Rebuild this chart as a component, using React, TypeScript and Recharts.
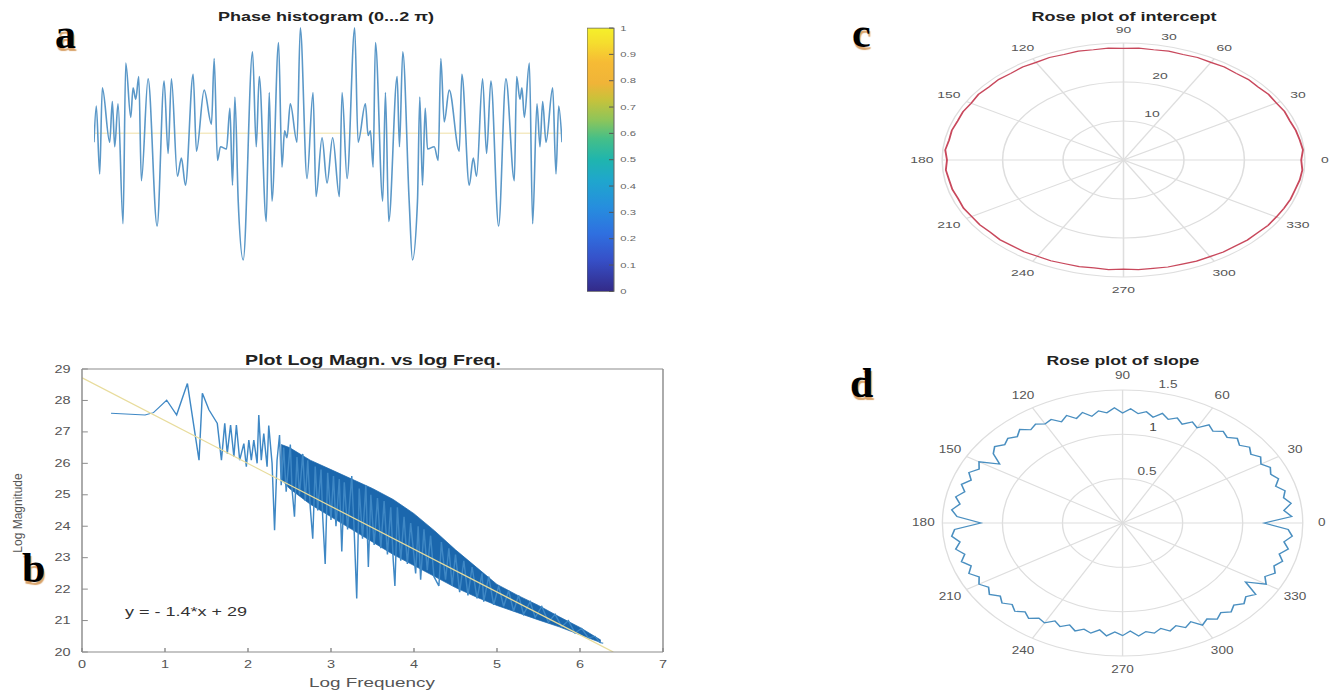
import React from 'react';
import {
  LineChart, Line, XAxis, YAxis, ReferenceLine, BarChart, Bar, ComposedChart, Area,
  RadarChart, Radar, PolarGrid, PolarAngleAxis, PolarRadiusAxis,
} from 'recharts';

const SANS = '"Liberation Sans", Arial, Helvetica, sans-serif';
const SERIF = '"Liberation Serif", "Times New Roman", serif';

// ---------- Panel a : phase signal ----------
const phaseT = [
  0, 2.3, 5.7, 8.3, 15.7, 18.3, 20.7, 24, 29, 31.7, 36.7, 39, 41.7, 44.7, 47.3, 54, 63, 70, 74, 77.3,
  83.3, 87.3, 91.3, 99, 102.3, 110, 117.3, 120, 123.3, 126.3, 132.3, 135.7, 138.3, 140.7, 144, 149,
  158.3, 162, 165, 172, 175, 177.7, 184.3, 187.7, 190.3, 192.7, 196, 202.7, 206, 212.7, 218.7, 221.7,
  227.7, 232.7, 238.3, 245, 247.7, 252.7, 260.3, 263.7, 271, 273.7, 276, 278.7, 281, 288.3, 291, 294.3,
  302.7, 305, 308.3,
  314.7, 318, 323, 325.3, 328, 330.7, 333, 339.7, 343.7, 346.3, 349.7, 354.7, 364.7, 367.3, 374.7, 378.7,
  382, 388, 392, 396.3, 404, 411.3, 419.7, 422, 425.3, 427.3, 429.7, 434.7, 438, 442.3, 445.3, 448, 451.3,
  458, 461.3, 464, 467.3,
];
const phaseV = [
  0.46, 0.62, 0.32, 0.70, 0.46, 0.64, 0.44, 0.63, 0.10, 0.81, 0.57, 0.70, 0.65, 0.75, 0.29, 0.74, 0.09, 0.73, 0.41, 0.74,
  0.31, 0.39, 0.27, 0.76, 0.42, 0.69, 0.54, 0.83, 0.38, 0.44, 0.43, 0.61, 0.27, 0.66, 0.20, -0.06,
  0.86, 0.44, 0.75, 0.11, 0.68, 0.20, 0.90, 0.35, 0.51, 0.48, 0.63, 0.46, 0.965, 0.30, 0.68, 0.22,
  0.48, 0.28, 0.48, 0.22, 0.68, 0.30, 0.965, 0.46, 0.63, 0.49, 0.51, 0.35, 0.90, 0.20, 0.68, 0.11,
  0.75, 0.44, 0.86,
  0.20, -0.06, 0.20, 0.66, 0.27, 0.61, 0.43, 0.44, 0.38, 0.83, 0.55, 0.69, 0.42, 0.76, 0.27, 0.39,
  0.31, 0.74, 0.41, 0.73, 0.09, 0.74, 0.29, 0.75, 0.65, 0.70, 0.57, 0.81, 0.10, 0.63, 0.44, 0.64, 0.46,
  0.70, 0.32, 0.62, 0.46,
];
const phaseLevel = 0.5;
const phaseData = phaseT.map((t, i) => ({ t, v: phaseV[i] }));

// ---------- Colorbar ----------
const cbTicks = [0, 0.1, 0.2, 0.3, 0.4, 0.5, 0.6, 0.7, 0.8, 0.9, 1];
const cbOffsets = [0, 0.057, 0.13, 0.21, 0.27, 0.35, 0.42, 0.5, 0.58, 0.68, 0.78, 0.88, 1];
const cbColors = ['#f5f02a', '#f5dd2e', '#f6bb35', '#f0b438', '#c9c23a', '#8dc55a', '#45bf88', '#1fb5ae', '#1fa6cd', '#268ede', '#2f70e0', '#3650c8', '#332a88'];
const cbData = [{ name: 'scale', v: 1 }];

// ---------- Panel b : log magnitude vs log frequency ----------
const magX = [
  0.35, 0.76, 0.86, 1.02, 1.14, 1.27, 1.41, 1.45, 1.53, 1.63, 1.68, 1.72, 1.75, 1.79, 1.83, 1.86, 1.90, 1.95, 1.98, 2.01,
  2.04, 2.07, 2.11, 2.13, 2.16, 2.19, 2.23, 2.25, 2.29, 2.32, 2.35,
  2.38, 2.40, 2.43, 2.46, 2.51, 2.53, 2.56, 2.59, 2.62, 2.66, 2.69, 2.72, 2.75, 2.78, 2.81, 2.84, 2.88, 2.90, 2.93, 2.96,
  3.00, 3.03, 3.06, 3.10, 3.13, 3.16, 3.20, 3.25, 3.28, 3.31, 3.34, 3.38, 3.42, 3.45, 3.48, 3.52, 3.56, 3.60, 3.64, 3.68,
  3.72, 3.75, 3.77, 3.80, 3.84, 3.88, 3.92, 3.96, 4.02, 4.05, 4.08, 4.12, 4.16, 4.20, 4.24, 4.30, 4.33, 4.38, 4.42, 4.46,
  4.50, 4.55, 4.60, 4.65, 4.70, 4.76, 4.82, 4.84, 4.90, 4.96, 5.02, 5.08, 5.14, 5.20, 5.26, 5.32, 5.40, 5.46, 5.54, 5.62,
  5.70, 5.78, 5.86, 5.94, 6.02, 6.10, 6.18, 6.24, 6.28,
];
const magY = [
  27.59, 27.54, 27.61, 28.01, 27.54, 28.54, 26.10, 28.23, 27.70, 27.27, 26.10, 27.27, 26.31, 27.22, 26.21, 27.22, 26.10, 26.63, 25.89, 26.74,
  26.10, 26.74, 26.00, 27.54, 26.10, 26.95, 25.89, 27.20, 26.00, 23.87, 26.10,
  26.90, 25.30, 26.50, 25.10, 26.60, 25.20, 24.30, 26.20, 25.00, 26.30, 24.80, 26.10, 24.60, 23.60, 25.90, 24.50, 25.80, 24.30, 22.80, 25.70,
  24.20, 25.60, 24.00, 25.50, 23.20, 25.40, 23.90, 25.60, 23.80, 21.70, 25.20, 23.60, 25.30, 22.70, 25.00, 23.40, 24.90, 23.30, 24.80, 23.10,
  24.60, 22.90, 22.10, 24.60, 22.90, 24.30, 22.80, 24.10, 22.50, 24.00, 22.30, 23.90, 22.60, 23.70, 22.40, 22.10, 23.50, 22.30, 23.30, 22.10,
  23.10, 21.90, 22.90, 21.80, 22.70, 21.70, 22.50, 21.60, 22.40, 21.50, 22.10, 21.45, 21.95, 21.30, 21.80, 21.20, 21.60, 21.10, 21.45, 20.95,
  21.20, 20.80, 21.00, 20.60, 20.75, 20.45, 20.50, 20.30, 20.28,
];
const magData = magX.map((x, i) => ({ x, y: magY[i] }));

const bandX = [2.4, 2.5, 2.75, 3.0, 3.25, 3.5, 3.75, 4.0, 4.25, 4.5, 4.75, 5.0, 5.25, 5.5, 5.75, 6.0, 6.25];
const bandLo = [25.5, 25.2, 24.7, 24.3, 23.9, 23.5, 23.1, 22.75, 22.4, 22.05, 21.75, 21.48, 21.25, 21.02, 20.8, 20.55, 20.3];
const bandHi = [26.6, 26.5, 26.1, 25.8, 25.5, 25.2, 24.85, 24.4, 23.85, 23.25, 22.7, 22.15, 21.8, 21.48, 21.12, 20.78, 20.38];
const bandData = bandX.map((x, i) => ({ x, lo: bandLo[i], hi: bandHi[i] }));

const fitX = [0, 6.4];
const fitY = [28.72, 20.0];
const fitData = fitX.map((x, i) => ({ x, y: fitY[i] }));

const bTicksX = [0, 1, 2, 3, 4, 5, 6, 7];
const bTicksY = [20, 21, 22, 23, 24, 25, 26, 27, 28, 29];

// ---------- Panel c : rose plot of intercept ----------
const cAngles = [
  0, 5, 10, 15, 20, 25, 30, 35, 40, 45, 50, 55, 60, 65, 70, 75, 80, 85, 90, 95, 100, 105, 110, 115,
  120, 125, 130, 135, 140, 145, 150, 155, 160, 165, 170, 175, 180, 185, 190, 195, 200, 205, 210, 215,
  220, 225, 230, 235, 240, 245, 250, 255, 260, 265, 270, 275, 280, 285, 290, 295, 300, 305, 310, 315,
  320, 325, 330, 335, 340, 345, 350, 355,
];
const cRadius = [
  29.4, 29.8, 29.6, 29.5, 29.3, 29.4, 29.2, 29.3, 29.1, 29.2, 29.0, 29.1, 28.9, 29.0, 28.8, 28.9, 28.7, 28.8, 28.6, 28.8, 28.7, 28.9, 28.8, 29.0,
  28.9, 29.1, 29.0, 29.2, 29.1, 29.3, 29.1, 29.3, 29.2, 29.4, 29.3, 29.6, 29.2, 29.5, 29.3, 29.3, 29.1, 29.2, 29.0, 29.0,
  28.8, 28.9, 28.7, 28.7, 28.5, 28.5, 28.3, 28.3, 28.1, 28.2, 28.0, 28.2, 28.2, 28.4, 28.4, 28.6, 28.6, 28.8, 28.8, 29.0,
  29.0, 29.2, 29.2, 29.3, 29.4, 29.4, 29.6, 29.7,
];
const cData = cAngles.map((angle, i) => ({ angle, r: cRadius[i] }));

// ---------- Panel d : rose plot of slope ----------
const dAngles = [
  0, 3, 6, 9, 12, 15, 18, 21, 24, 27, 30, 33, 36, 39, 42, 45, 48, 51, 54, 57,
  60, 63, 66, 69, 72, 75, 78, 81, 84, 87, 90, 93, 96, 99, 102, 105, 108, 111, 114, 117,
  120, 123, 126, 129, 132, 135, 138, 141, 144, 147, 150, 153, 156, 159, 162, 165, 168, 171, 174, 177,
  180, 183, 186, 189, 192, 195, 198, 201, 204, 207, 210, 213, 216, 219, 222, 225, 228, 231, 234, 237,
  240, 243, 246, 249, 252, 255, 258, 261, 264, 267, 270, 273, 276, 279, 282, 285, 288, 291, 294, 297,
  300, 303, 306, 309, 312, 315, 318, 321, 324, 327, 330, 333, 336, 339, 342, 345, 348, 351, 354, 357,
];
const dRadius = [
  1.18, 1.41, 1.35, 1.42, 1.37, 1.40, 1.34, 1.39, 1.35, 1.38, 1.33, 1.37, 1.32, 1.36, 1.31, 1.35, 1.30, 1.33, 1.28, 1.32,
  1.24, 1.28, 1.22, 1.27, 1.23, 1.28, 1.22, 1.27, 1.24, 1.29, 1.24, 1.30, 1.25, 1.28, 1.23, 1.29, 1.24, 1.30, 1.25, 1.31,
  1.29, 1.33, 1.30, 1.36, 1.31, 1.35, 1.32, 1.37, 1.33, 1.22, 1.38, 1.34, 1.40, 1.35, 1.41, 1.36, 1.42, 1.37, 1.43, 1.38,
  1.18, 1.40, 1.43, 1.37, 1.42, 1.36, 1.41, 1.35, 1.40, 1.34, 1.38, 1.33, 1.37, 1.31, 1.35, 1.30, 1.34, 1.29, 1.33, 1.28,
  1.30, 1.24, 1.28, 1.23, 1.28, 1.24, 1.27, 1.22, 1.28, 1.23, 1.27, 1.22, 1.28, 1.24, 1.27, 1.23, 1.28, 1.24, 1.29, 1.25,
  1.33, 1.29, 1.34, 1.30, 1.35, 1.31, 1.36, 1.32, 1.37, 1.22, 1.38, 1.33, 1.39, 1.35, 1.40, 1.35, 1.41, 1.36, 1.42, 1.38,
];
const dData = dAngles.map((angle, i) => ({ angle, r: dRadius[i] }));

const gridAngles = [0, 30, 60, 90, 120, 150, 180, 210, 240, 270, 300, 330];
const cRadLabels = ['10', '20', '30'];
const dRadLabels = ['0.5', '1', '1.5'];

// ---------- helpers ----------
type TProps = { x: number; y: number; s?: number; size?: number; bold?: boolean; color?: string; rotate?: boolean; children: React.ReactNode };
const Txt = ({ x, y, s = 1.4, size = 11, bold = false, color = '#222', rotate = false, children }: TProps) => (
  <div
    style={{
      position: 'absolute', left: x, top: y,
      transform: `translate(-50%, -50%) scaleX(${s})${rotate ? ' rotate(-90deg)' : ''}`,
      fontSize: size, fontWeight: bold ? 'bold' : 'normal', color, whiteSpace: 'nowrap',
      fontFamily: SANS, lineHeight: 1,
    }}
  >
    {children}
  </div>
);

const Letter = ({ x, base, ch }: { x: number; base: number; ch: string }) => {
  const fs = 42;
  return (
    <div
      style={{
        position: 'absolute', left: x, top: base - 0.8375 * fs, fontSize: fs, lineHeight: `${fs}px`,
        fontFamily: SERIF, fontWeight: 'bold', color: '#000', textShadow: '1px 3px 1px #d9a36a',
      }}
    >
      {ch}
    </div>
  );
};

const makeAngleTick = (fs: number) => (props: any) => {
  const { x, y, payload } = props;
  return (
    <text x={x} y={y} textAnchor="middle" dominantBaseline="central" fontSize={fs} fill="#555" fontFamily={SANS}>
      {payload.value}
    </text>
  );
};

export default function App() {
  const axisGrey = '#8c8c8c';
  const tickStyle = { fontSize: 10, fill: '#555', fontFamily: SANS };
  return (
    <div style={{ position: 'absolute', left: 0, top: 0, width: 1339, height: 693, background: '#fff', overflow: 'hidden', fontFamily: SANS }}>
      {/* Panel letters */}
      <Letter x={55} base={48} ch="a" />
      <Letter x={22} base={582} ch="b" />
      <Letter x={852} base={47} ch="c" />
      <Letter x={850} base={397} ch="d" />

      {/* Panel a */}
      <Txt x={326} y={17} size={12} bold s={1.5}>Phase histogram (0...2 π)</Txt>
      <div style={{ position: 'absolute', left: 94, top: 20 }}>
        <LineChart width={468} height={249} data={phaseData} margin={{ top: 0, right: 0, bottom: 0, left: 0 }}>
          <XAxis type="number" dataKey="t" domain={[0, 467.3]} hide />
          <YAxis type="number" domain={[-0.1, 1]} hide />
          <ReferenceLine y={phaseLevel} stroke="#efe0a6" strokeWidth={1} />
          <Line type="monotone" dataKey="v" stroke="#5b98c8" strokeWidth={1.6} dot={false} isAnimationActive={false} />
        </LineChart>
      </div>

      {/* Colorbar */}
      <div style={{ position: 'absolute', left: 586.7, top: 23.3, transform: 'scaleX(1.5)', transformOrigin: '0 0' }}>
        <BarChart width={42.7} height={273.4} data={cbData} margin={{ top: 5, right: 0, bottom: 5, left: 0 }} barCategoryGap={0} barGap={0}>
          <defs>
            <linearGradient id="parula" x1="0" y1="0" x2="0" y2="1">
              {cbOffsets.map((o, i) => (
                <stop key={i} offset={o} stopColor={cbColors[i]} />
              ))}
            </linearGradient>
          </defs>
          <XAxis dataKey="name" hide />
          <YAxis
            orientation="right" type="number" domain={[0, 1]} ticks={cbTicks} width={25}
            axisLine={false} tickSize={-3} tickMargin={7.5} stroke="#555"
            tick={{ fontSize: 7.5, fill: '#666', fontFamily: SANS }} interval={0}
          />
          <Bar dataKey="v" fill="url(#parula)" stroke="#666" strokeWidth={0.7} isAnimationActive={false} />
        </BarChart>
      </div>

      {/* Panel b */}
      <Txt x={372.5} y={360} size={14} bold s={1.4}>Plot Log Magn. vs log Freq.</Txt>
      <Txt x={372} y={682} size={13} s={1.45} color="#555">Log Frequency</Txt>
      <Txt x={18} y={513} size={12} s={1} rotate color="#555">Log Magnitude</Txt>
      <Txt x={186} y={612} size={12} s={1.5} color="#333">y = - 1.4*x + 29</Txt>
      <div style={{ position: 'absolute', left: 0, top: 340, transform: 'scaleX(1.45)', transformOrigin: '0 0' }}>
        <ComposedChart width={464} height={345} margin={{ top: 28, right: 5.76, bottom: 13, left: 0 }}>
          <XAxis
            xAxisId="b" type="number" dataKey="x" domain={[0, 7]} ticks={bTicksX} height={20}
            stroke={axisGrey} tickSize={-4} tickMargin={13} tick={tickStyle} allowDataOverflow
          />
          <XAxis
            xAxisId="top" orientation="top" type="number" dataKey="x" domain={[0, 7]} ticks={bTicksX} height={1}
            stroke={axisGrey} tickSize={-4} tick={false} allowDataOverflow
          />
          <YAxis
            yAxisId="left" type="number" domain={[20, 29]} ticks={bTicksY} width={56.55}
            stroke={axisGrey} tickSize={-4} tickMargin={11.8} tick={tickStyle} allowDataOverflow
          />
          <YAxis
            yAxisId="right" orientation="right" type="number" domain={[20, 29]} ticks={bTicksY} width={1}
            stroke={axisGrey} tickSize={-4} tick={false} allowDataOverflow
          />
          <Area
            xAxisId="b" yAxisId="left" data={bandData} dataKey={(d: any) => [d.lo, d.hi]} type="linear"
            stroke="#1b67ad" strokeWidth={0.6} fill="#1b67ad" fillOpacity={1} isAnimationActive={false} dot={false}
          />
          <Line
            xAxisId="b" yAxisId="left" data={magData} dataKey="y" type="linear"
            stroke="#3f88c5" strokeWidth={1} dot={false} isAnimationActive={false}
          />
          <Line
            xAxisId="top" yAxisId="right" data={fitData} dataKey="y" type="linear"
            stroke="#e8dc9c" strokeWidth={1.1} dot={false} isAnimationActive={false}
          />
        </ComposedChart>
      </div>

      {/* Panel c */}
      <Txt x={1124} y={17} size={12} bold s={1.5}>Rose plot of intercept</Txt>
      <div style={{ position: 'absolute', left: 890.8, top: 10, transform: 'scaleX(1.55)', transformOrigin: '0 0' }}>
        <RadarChart width={300} height={300} cx={150} cy={150} outerRadius={117} startAngle={0} endAngle={360} data={cData} margin={{ top: 0, right: 0, bottom: 0, left: 0 }}>
          <PolarGrid gridType="circle" polarAngles={gridAngles} stroke="#dedede" />
          <PolarAngleAxis dataKey="angle" type="number" domain={[0, 360]} ticks={gridAngles as any} tickLine={false} axisLine={false} tickSize={13} tick={makeAngleTick(9)} />
          <PolarRadiusAxis type="number" angle={80} domain={[0, 30]} tickCount={4} allowDataOverflow axisLine={false} tickLine={false} tick={false} />
          <Radar dataKey="r" stroke="#c8485c" strokeWidth={1.2} fill="none" fillOpacity={0} dot={false} isAnimationActive={false} />
        </RadarChart>
      </div>
      <Txt x={1152} y={114} size={9} s={1.55} color="#555">{cRadLabels[0]}</Txt>
      <Txt x={1160} y={76} size={9} s={1.55} color="#555">{cRadLabels[1]}</Txt>
      <Txt x={1169} y={37} size={9} s={1.55} color="#555">{cRadLabels[2]}</Txt>

      {/* Panel d */}
      <Txt x={1123} y={361} size={12} bold s={1.47}>Rose plot of slope</Txt>
      <div style={{ position: 'absolute', left: 899.1, top: 363.3, transform: 'scaleX(1.355)', transformOrigin: '0 0' }}>
        <RadarChart width={330} height={320} cx={165} cy={160} outerRadius={133} startAngle={0} endAngle={360} data={dData} margin={{ top: 0, right: 0, bottom: 0, left: 0 }}>
          <PolarGrid gridType="circle" polarAngles={gridAngles} stroke="#dedede" />
          <PolarAngleAxis dataKey="angle" type="number" domain={[0, 360]} ticks={gridAngles as any} tickLine={false} axisLine={false} tickSize={14} tick={makeAngleTick(10)} />
          <PolarRadiusAxis type="number" angle={80} domain={[0, 1.5]} tickCount={4} allowDecimals allowDataOverflow axisLine={false} tickLine={false} tick={false} />
          <Radar dataKey="r" stroke="#4a8fc0" strokeWidth={1.2} fill="none" fillOpacity={0} dot={false} isAnimationActive={false} />
        </RadarChart>
      </div>
      <Txt x={1147} y={472} size={10} s={1.355} color="#555">{dRadLabels[0]}</Txt>
      <Txt x={1153} y={428} size={10} s={1.355} color="#444">{dRadLabels[1]}</Txt>
      <Txt x={1168} y={385} size={10} s={1.355} color="#555">{dRadLabels[2]}</Txt>
    </div>
  );
}
